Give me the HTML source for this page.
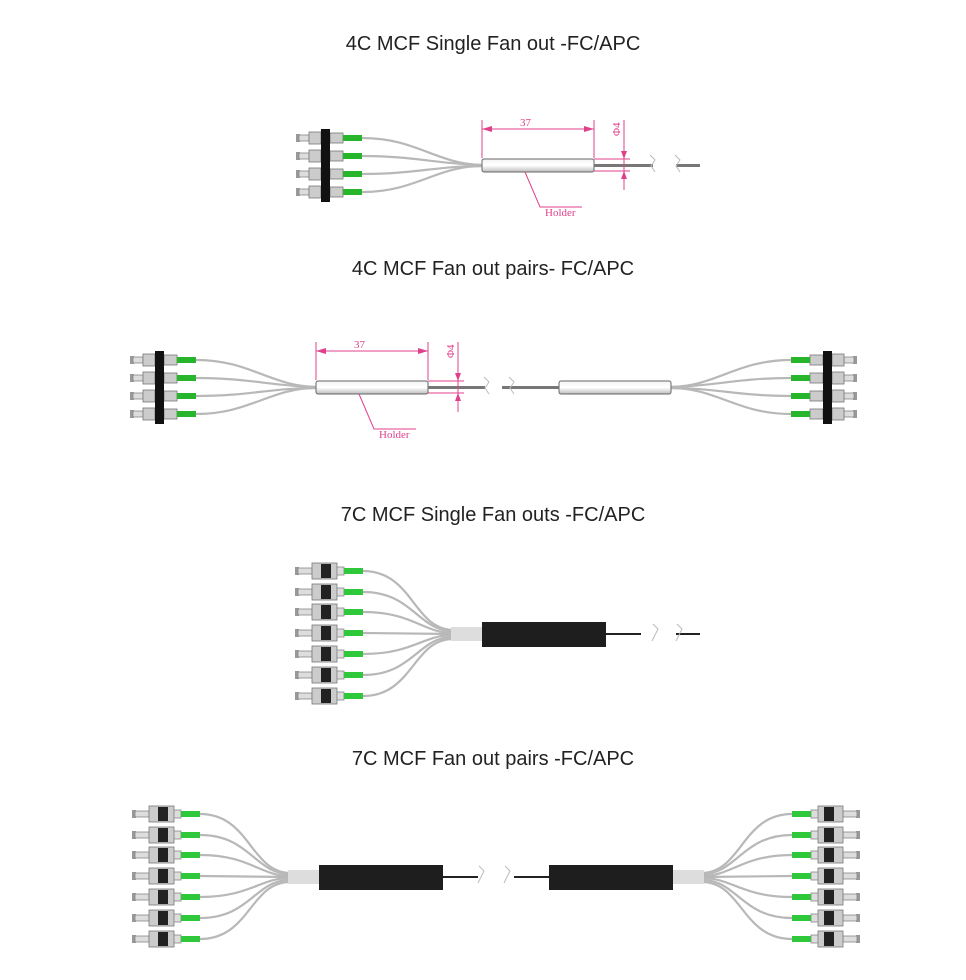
<!DOCTYPE html>
<html><head><meta charset="utf-8"><style>
html,body{margin:0;padding:0;background:#fff;}
svg{display:block}
.t{font-family:"Liberation Sans",sans-serif;font-size:20px;fill:#222;text-anchor:middle}
.pk{font-family:"Liberation Serif",serif;font-size:11px;fill:#e0408a}
.f{fill:none;stroke:#b8b8b8;stroke-width:2.2}
</style></head><body>
<svg width="966" height="980" viewBox="0 0 966 980" xmlns="http://www.w3.org/2000/svg">
<defs>
<g id="c4">
 <rect x="0" y="-4" width="4" height="8" fill="#999"/>
 <rect x="3" y="-3" width="10" height="6" fill="#ddd" stroke="#888" stroke-width="0.8"/>
 <rect x="13" y="-6" width="12" height="12" fill="#ccc" stroke="#777" stroke-width="0.8"/>
 <rect x="34" y="-5" width="13" height="10" fill="#ccc" stroke="#777" stroke-width="0.8"/>
 <rect x="47" y="-3" width="19" height="6" fill="#27b52b"/>
</g>
<g id="c7">
 <rect x="0" y="-4" width="4" height="8" fill="#999"/>
 <rect x="3" y="-3" width="14" height="6" fill="#ddd" stroke="#888" stroke-width="0.8"/>
 <rect x="17" y="-8" width="25" height="16" fill="#ccc" stroke="#777" stroke-width="0.8"/>
 <rect x="26" y="-7" width="10" height="14" fill="#222"/>
 <rect x="42" y="-4" width="7" height="8" fill="#ddd" stroke="#888" stroke-width="0.8"/>
 <rect x="49" y="-3" width="19" height="6" fill="#2fc83a"/>
</g>
<linearGradient id="hg" x1="0" y1="0" x2="0" y2="1"><stop offset="0" stop-color="#f4f4f4"/><stop offset="0.5" stop-color="#fff"/><stop offset="1" stop-color="#bbb"/></linearGradient>
<g id="fan4">
 <use href="#c4" x="130" y="360"/><use href="#c4" x="130" y="378"/><use href="#c4" x="130" y="396"/><use href="#c4" x="130" y="414"/>
 <rect x="155" y="351" width="9" height="73" fill="#111"/>
 <path class="f" d="M196 360 C250 360 270 386 316 387"/>
 <path class="f" d="M196 378 C250 378 270 386 316 387"/>
 <path class="f" d="M196 396 C250 396 270 388 316 388"/>
 <path class="f" d="M196 414 C250 414 270 388 316 388"/>
 <rect x="316" y="381" width="112" height="13" rx="2" fill="url(#hg)" stroke="#666" stroke-width="1"/>
 <line x1="428" y1="387.5" x2="485" y2="387.5" stroke="#777" stroke-width="3"/>
</g>
<g id="fan7">
 <use href="#c7" x="132" y="814"/><use href="#c7" x="132" y="835"/><use href="#c7" x="132" y="855"/><use href="#c7" x="132" y="876"/><use href="#c7" x="132" y="897"/><use href="#c7" x="132" y="918"/><use href="#c7" x="132" y="939"/>
 <path class="f" d="M200 814 C250 814 250 872 290 873"/>
 <path class="f" d="M200 835 C250 835 255 874 290 874"/>
 <path class="f" d="M200 855 C250 855 260 876 290 876"/>
 <path class="f" d="M200 876 L290 877"/>
 <path class="f" d="M200 897 C250 897 260 878 290 878"/>
 <path class="f" d="M200 918 C250 918 255 880 290 880"/>
 <path class="f" d="M200 939 C250 939 250 882 290 882"/>
 <rect x="288" y="870" width="32" height="14" fill="#ddd"/>
 <rect x="319" y="865" width="124" height="25" fill="#1e1e1e"/>
 <line x1="443" y1="877" x2="478" y2="877" stroke="#222" stroke-width="2"/>
</g>
</defs>

<text class="t" x="493" y="50">4C MCF Single Fan out -FC/APC</text>
<text class="t" x="493" y="275">4C MCF Fan out pairs- FC/APC</text>
<text class="t" x="493" y="521">7C MCF Single Fan outs -FC/APC</text>
<text class="t" x="493" y="765">7C MCF Fan out pairs -FC/APC</text>

<!-- Diagram 1 -->
<g transform="translate(166,-222)"><use href="#fan4"/></g>
<line x1="594" y1="165.5" x2="653" y2="165.5" stroke="#777" stroke-width="3"/>
<line x1="676" y1="165.5" x2="700" y2="165.5" stroke="#777" stroke-width="3"/>
<path d="M650 155 l5 5 -4 6 4 6 M675 155 l5 5 -4 6 4 6" fill="none" stroke="#bbb" stroke-width="1"/>
<g stroke="#e0408a" stroke-width="1" fill="none">
 <line x1="482" y1="120" x2="482" y2="158"/><line x1="594" y1="120" x2="594" y2="158"/>
 <line x1="482" y1="129" x2="594" y2="129"/>
 <line x1="594" y1="159" x2="630" y2="159"/><line x1="594" y1="171" x2="630" y2="171"/>
 <line x1="624" y1="120" x2="624" y2="190"/>
 <path d="M525 172 L540 207 L582 207"/>
</g>
<path d="M482 129 l10 -3 v6z M594 129 l-10 -3 v6z M624 159 l-3 -8 h6z M624 171 l-3 8 h6z" fill="#e0408a"/>
<text class="pk" x="520" y="126" font-size="12">37</text>
<text class="pk" x="0" y="0" transform="translate(620,136) rotate(-90)">Φ4</text>
<text class="pk" x="545" y="216">Holder</text>

<!-- Diagram 2 -->
<use href="#fan4"/>
<g transform="translate(987,0) scale(-1,1)"><use href="#fan4"/></g>
<path d="M484 377 l5 5 -4 6 4 6 M509 377 l5 5 -4 6 4 6" fill="none" stroke="#bbb" stroke-width="1"/>
<g stroke="#e0408a" stroke-width="1" fill="none">
 <line x1="316" y1="342" x2="316" y2="380"/><line x1="428" y1="342" x2="428" y2="380"/>
 <line x1="316" y1="351" x2="428" y2="351"/>
 <line x1="428" y1="381" x2="464" y2="381"/><line x1="428" y1="393" x2="464" y2="393"/>
 <line x1="458" y1="342" x2="458" y2="412"/>
 <path d="M359 394 L374 429 L416 429"/>
</g>
<path d="M316 351 l10 -3 v6z M428 351 l-10 -3 v6z M458 381 l-3 -8 h6z M458 393 l-3 8 h6z" fill="#e0408a"/>
<text class="pk" x="354" y="348" font-size="12">37</text>
<text class="pk" x="0" y="0" transform="translate(454,358) rotate(-90)">Φ4</text>
<text class="pk" x="379" y="438">Holder</text>

<!-- Diagram 3 -->
<g transform="translate(163,-243)"><use href="#fan7"/></g>
<rect x="641" y="630" width="20" height="10" fill="#fff"/>
<line x1="676" y1="634" x2="700" y2="634" stroke="#222" stroke-width="2"/>
<path d="M653 624 l5 5 -6 12 M677 624 l5 5 -6 12" fill="none" stroke="#bbb" stroke-width="1"/>

<!-- Diagram 4 -->
<use href="#fan7"/>
<g transform="translate(992,0) scale(-1,1)"><use href="#fan7"/></g>
<rect x="478" y="870" width="36" height="14" fill="#fff"/>
<path d="M479 866 l5 5 -6 12 M505 866 l5 5 -6 12" fill="none" stroke="#bbb" stroke-width="1"/>
</svg>
</body></html>
